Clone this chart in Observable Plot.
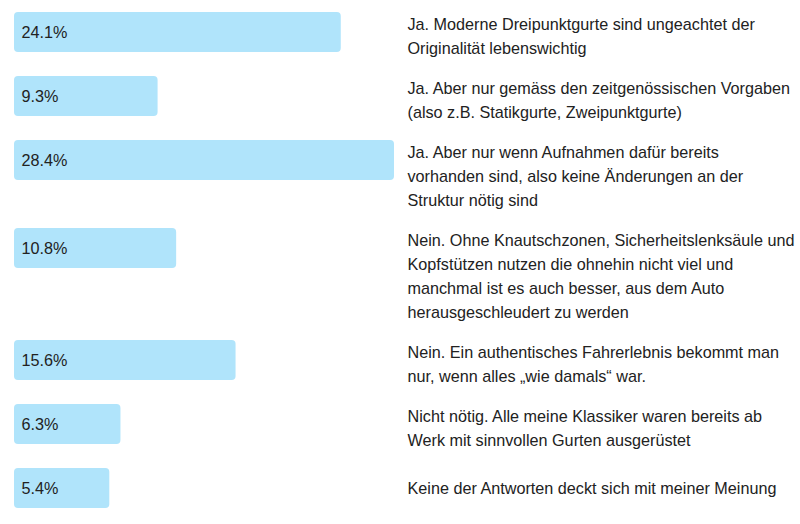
<!DOCTYPE html>
<html>
<head>
<meta charset="utf-8">
<script src="https://cdn.jsdelivr.net/npm/d3@7"></script>
<script src="https://cdn.jsdelivr.net/npm/@observablehq/plot@0.6"></script>
<style>
  html, body { margin: 0; padding: 0; background: #fff; }
</style>
</head>
<body>
<div id="chart"></div>
<script>
// Data
const answers = [
  "Ja. Moderne Dreipunktgurte sind ungeachtet der\nOriginalität lebenswichtig",
  "Ja. Aber nur gemäss den zeitgenössischen Vorgaben\n(also z.B. Statikgurte, Zweipunktgurte)",
  "Ja. Aber nur wenn Aufnahmen dafür bereits\nvorhanden sind, also keine Änderungen an der\nStruktur nötig sind",
  "Nein. Ohne Knautschzonen, Sicherheitslenksäule und\nKopfstützen nutzen die ohnehin nicht viel und\nmanchmal ist es auch besser, aus dem Auto\nherausgeschleudert zu werden",
  "Nein. Ein authentisches Fahrerlebnis bekommt man\nnur, wenn alles „wie damals“ war.",
  "Nicht nötig. Alle meine Klassiker waren bereits ab\nWerk mit sinnvollen Gurten ausgerüstet",
  "Keine der Antworten deckt sich mit meiner Meinung"
];
const shares = [24.1, 9.3, 28.4, 10.8, 15.6, 6.3, 5.4];

// Layout in row units (1 unit = 8px): each text line takes 3 units, bar takes 5
const lineUnits = 3, barUnits = 5, gapUnits = 2;
let rowStart = 0;
const rows = answers.map((a, i) => {
  const lines = a.split("\n").length;
  const r = {
    answer: a,
    share: shares[i],
    label: shares[i].toFixed(1) + "%",
    y1: rowStart,
    y2: rowStart + barUnits,
    ty: rowStart + Math.max(barUnits / 2, lines * lineUnits / 2)
  };
  rowStart += Math.max(lines, 2) * lineUnits + gapUnits;
  return r;
});
const yMax = rows[rows.length - 1].y2;
const xMin = -2.3;
const fs = 16.2;

const chart = Plot.plot({
  width: 800,
  height: 524,
  marginTop: 12,
  marginBottom: 16,
  marginLeft: 0,
  marginRight: 0,
  style: { fontFamily: "'Liberation Sans', Arial, sans-serif", fontSize: fs + "px", color: "#222", background: "#fff" },
  x: { domain: [xMin, 28.4], range: [14, 394], axis: null },
  y: { domain: [0, yMax], reverse: true, axis: null },
  marks: [
    Plot.rectX(rows, { x1: xMin, x2: "share", y1: "y1", y2: "y2", fill: "#b0e4fb", rx: 4 }),
    Plot.text(rows, { x: xMin, y: d => (d.y1 + d.y2) / 2, text: "label", textAnchor: "start", dx: 7, fontSize: fs, fill: "#222" }),
    Plot.text(rows, { frameAnchor: "left", y: "ty", text: "answer", textAnchor: "start", dx: 407, dy: -2, lineAnchor: "middle", lineHeight: 24 / fs, fontSize: fs, fill: "#222" })
  ]
});
document.getElementById("chart").appendChild(chart);
</script>
</body>
</html>
